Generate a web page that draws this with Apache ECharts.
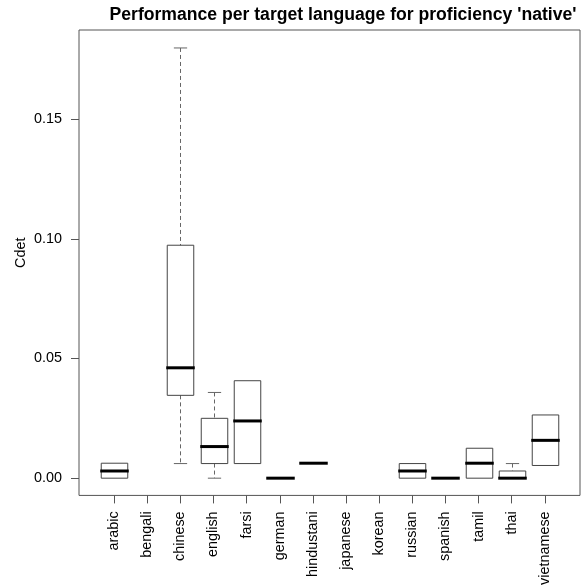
<!DOCTYPE html>
<html>
<head>
<meta charset="utf-8">
<script src="https://cdn.jsdelivr.net/npm/echarts@6/dist/echarts.min.js"></script>
<style>html,body{margin:0;padding:0;background:#fff;}#c{width:587px;height:588px;}</style>
</head>
<body>
<div id="c"></div>
<script>
const categories = ['arabic','bengali','chinese','english','farsi','german','hindustani','japanese','korean','russian','spanish','tamil','thai','vietnamese'];
const whiskerLow  = [0,      null, 0.0061, 0,      0.0061, 0, 0.00625, null, null, 0,     0, 0,       0,     0.0053];
const q1Values    = [0,      null, 0.0346, 0.0061, 0.0061, 0, 0.00625, null, null, 0,     0, 0,       0,     0.0053];
const medians     = [0.003,  null, 0.0461, 0.0132, 0.0239, 0, 0.00625, null, null, 0.003, 0, 0.00625, 0,     0.0158];
const q3Values    = [0.00625,null, 0.0973, 0.025,  0.0407, 0, 0.00625, null, null, 0.0061,0, 0.0125,  0.003, 0.0264];
const whiskerHigh = [0.00625,null, 0.1797, 0.0358, 0.0407, 0, 0.00625, null, null, 0.0061,0, 0.0125,  0.0061,0.0264];
const yTicks = [0, 0.05, 0.10, 0.15];

const data = [];
categories.forEach((c, i) => {
  if (medians[i] === null) return;
  data.push([i + 1, whiskerLow[i], q1Values[i], medians[i], q3Values[i], whiskerHigh[i]]);
});

const font = "'Liberation Sans', Arial, sans-serif";
const chart = echarts.init(document.getElementById('c'), null, {renderer: 'canvas'});
chart.setOption({
  animation: false,
  backgroundColor: '#fff',
  title: {
    text: "Performance per target language for proficiency 'native'",
    left: 338, top: 1, textAlign: 'center',
    textStyle: {fontFamily: font, fontSize: 17.6, fontWeight: 'bold', color: '#000'}
  },
  grid: {left: 79, right: 7, top: 30, bottom: 92, show: true, borderColor: '#555', borderWidth: 1, backgroundColor: 'transparent'},
  xAxis: {
    type: 'value', min: -0.06, max: 15.06,
    axisLine: {show: false, onZero: false},
    splitLine: {show: false},
    axisTick: {show: true, customValues: categories.map((c, i) => i + 1), length: 8, inside: false, lineStyle: {color: '#555'}},
    axisLabel: {customValues: categories.map((c, i) => i + 1), rotate: 90, margin: 16,
      formatter: v => categories[Math.round(v) - 1] || '',
      fontFamily: font, fontSize: 14.4, color: '#000'}
  },
  yAxis: {
    type: 'value', min: -0.0072, max: 0.1872,
    name: 'Cdet', nameLocation: 'middle', nameGap: 51, nameMoveOverlap: false,
    nameTextStyle: {fontFamily: font, fontSize: 14.4, color: '#000', padding: [0, 0, 0, 20]},
    axisLine: {show: false, onZero: false},
    splitLine: {show: false},
    axisTick: {show: true, customValues: yTicks, length: 8, lineStyle: {color: '#555'}},
    axisLabel: {customValues: yTicks, margin: 17, formatter: v => v.toFixed(2),
      fontFamily: font, fontSize: 14.4, color: '#000'}
  },
  series: [{
    type: 'custom',
    data: data,
    encode: {x: 0, y: [1, 2, 3, 4, 5]},
    renderItem: function (params, api) {
      const x = api.value(0);
      const lo = api.value(1), q1 = api.value(2), md = api.value(3), q3 = api.value(4), hi = api.value(5);
      const bw = api.size([0.8, 0])[0];
      const half = bw / 2;
      const cap = bw / 4;
      const pLo = api.coord([x, lo]), pQ1 = api.coord([x, q1]), pMd = api.coord([x, md]), pQ3 = api.coord([x, q3]), pHi = api.coord([x, hi]);
      const cx = Math.round(pMd[0]) + 0.5;
      const children = [];
      const boxStyle = {stroke: '#444', lineWidth: 1, fill: null};
      const dash = {stroke: '#666', lineWidth: 1, lineDash: [4, 3]};
      const capStyle = {stroke: '#666', lineWidth: 1};
      if (hi > q3) {
        children.push({type: 'line', shape: {x1: cx, y1: pHi[1], x2: cx, y2: pQ3[1]}, style: dash});
        children.push({type: 'line', shape: {x1: cx - cap, y1: pHi[1], x2: cx + cap, y2: pHi[1]}, style: capStyle});
      }
      if (lo < q1) {
        children.push({type: 'line', shape: {x1: cx, y1: pQ1[1], x2: cx, y2: pLo[1]}, style: dash});
        children.push({type: 'line', shape: {x1: cx - cap, y1: pLo[1], x2: cx + cap, y2: pLo[1]}, style: capStyle});
      }
      if (q3 > q1) {
        children.push({type: 'rect', shape: {x: cx - half, y: pQ3[1], width: bw, height: pQ1[1] - pQ3[1]}, style: boxStyle});
      }
      children.push({type: 'line', shape: {x1: cx - half - 1, y1: pMd[1], x2: cx + half + 1, y2: pMd[1]}, style: {stroke: '#000', lineWidth: 3}});
      return {type: 'group', children: children};
    }
  }]
});
</script>
</body>
</html>
